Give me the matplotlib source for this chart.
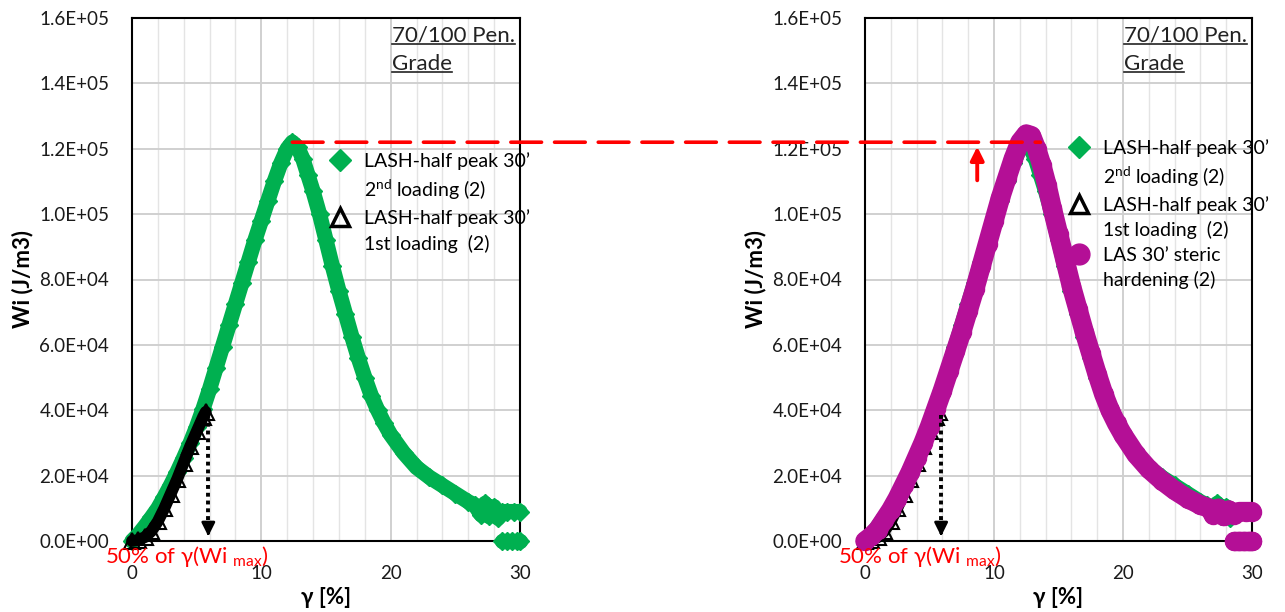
import matplotlib
matplotlib.use("Agg")
import matplotlib.pyplot as plt
from matplotlib.lines import Line2D
from matplotlib.patches import ConnectionPatch
from matplotlib.ticker import FuncFormatter, MultipleLocator

plt.rcParams['font.family'] = ['Lato', 'DejaVu Sans']
plt.rcParams['mathtext.fontset'] = 'custom'
plt.rcParams['mathtext.rm'] = 'Lato'
plt.rcParams['mathtext.it'] = 'Lato:italic'
plt.rcParams['mathtext.bf'] = 'Lato:bold'

GREEN = '#00B050'
PURPLE = '#B40F96'
RED = '#FF0000'

# LASH-half peak 30' 2nd loading (2)
g2_gamma = [0, 0.5, 1.0, 1.5, 2.0, 2.5, 3.0, 3.5, 4.0, 4.5, 5.0, 5.5, 6.0, 6.5,
            7.0, 7.5, 8.0, 8.5, 9.0, 9.5, 10.0, 10.5, 11.0, 11.5, 12.0, 12.4,
            12.8, 13.2, 13.6, 14.0, 14.5, 15.0, 15.5, 16.0, 16.5, 17.0, 17.5,
            18.0, 18.5, 19.0, 19.5, 20.0, 21.0, 22.0, 23.0, 24.0, 25.0, 26.0,
            26.5, 27.0, 27.3, 27.6, 28.0, 28.3, 28.6, 29.0, 29.5, 30.0]
g2_wi = [0, 2.0e3, 4.5e3, 7.2e3, 1.0e4, 1.35e4, 1.72e4, 2.12e4, 2.55e4, 3.0e4,
         3.5e4, 4.05e4, 4.65e4, 5.3e4, 5.95e4, 6.6e4, 7.25e4, 7.9e4, 8.55e4,
         9.2e4, 9.8e4, 1.04e5, 1.10e5, 1.155e5, 1.20e5, 1.22e5, 1.205e5,
         1.17e5, 1.12e5, 1.07e5, 1.0e5, 9.2e4, 8.4e4, 7.65e4, 6.95e4, 6.25e4,
         5.6e4, 5.0e4, 4.45e4, 4.0e4, 3.6e4, 3.25e4, 2.7e4, 2.25e4, 1.95e4,
         1.7e4, 1.45e4, 1.2e4, 1.1e4, 8.0e3, 1.15e4, 7.5e3, 1.05e4, 7.0e3,
         9.0e3, 9.0e3, 9.0e3, 9.0e3]
g2_gamma_zero = [28.6, 29.0, 29.4, 29.8, 30.0]
g2_wi_zero = [0, 0, 0, 0, 0]

# LASH-half peak 30' 1st loading (2)
g1_gamma = [0, 0.5, 1.0, 1.5, 2.0, 2.5, 3.0, 3.5, 4.0, 4.5, 5.0, 5.5, 5.7]
g1_wi = [0, 3e2, 1.2e3, 3.0e3, 6.0e3, 1.0e4, 1.45e4, 1.9e4, 2.4e4, 2.9e4,
         3.35e4, 3.8e4, 3.95e4]

# LAS 30' steric hardening (2)
las_gamma = [0, 0.5, 1.0, 1.5, 2.0, 2.5, 3.0, 3.5, 4.0, 4.5, 5.0, 5.5, 6.0,
             6.5, 7.0, 7.5, 8.0, 8.5, 9.0, 9.5, 10.0, 10.5, 11.0, 11.5, 12.0,
             12.5, 12.9, 13.3, 13.7, 14.1, 14.5, 15.0, 15.5, 16.0, 16.5, 17.0,
             17.5, 18.0, 18.5, 19.0, 19.5, 20.0, 21.0, 22.0, 23.0, 24.0, 25.0,
             26.0, 26.7, 27.0, 27.4, 27.8, 28.2, 28.6, 29.0, 29.5, 30.0]
las_wi = [0, 1.5e3, 3.5e3, 6.5e3, 9.5e3, 1.3e4, 1.7e4, 2.1e4, 2.55e4, 3.0e4,
          3.5e4, 4.05e4, 4.6e4, 5.2e4, 5.8e4, 6.4e4, 7.05e4, 7.7e4, 8.4e4,
          9.1e4, 9.8e4, 1.05e5, 1.11e5, 1.17e5, 1.22e5, 1.245e5, 1.24e5,
          1.20e5, 1.15e5, 1.09e5, 1.02e5, 9.4e4, 8.6e4, 7.8e4, 7.1e4, 6.4e4,
          5.75e4, 5.1e4, 4.5e4, 4.0e4, 3.6e4, 3.25e4, 2.65e4, 2.2e4, 1.85e4,
          1.55e4, 1.3e4, 1.1e4, 1.0e4, 8.0e3, 1.0e4, 7.5e3, 9.5e3, 8.0e3,
          9.0e3, 9.0e3, 9.0e3]
las_gamma_zero = [28.6, 29.0, 29.4, 29.8, 30.0]
las_wi_zero = [0, 0, 0, 0, 0]

wi_max = 1.22e5
gamma_max = 12.4
gamma_half = 5.9
y_ticks = [0, 2e4, 4e4, 6e4, 8e4, 1e5, 1.2e5, 1.4e5, 1.6e5]
x_ticks = [0, 10, 20, 30]

fig = plt.figure(figsize=(12.85, 6.12), dpi=100)
ax1 = fig.add_axes([132 / 1285, 71 / 612, 388 / 1285, 523 / 612])
ax2 = fig.add_axes([865 / 1285, 71 / 612, 387 / 1285, 523 / 612])


def style(ax):
    ax.set_xlim(0, 30)
    ax.set_ylim(0, 1.6e5)
    ax.set_xticks(x_ticks)
    ax.set_yticks(y_ticks)
    ax.xaxis.set_minor_locator(MultipleLocator(2))
    ax.yaxis.set_major_formatter(FuncFormatter(lambda v, p: f"{v:.1E}"))
    ax.grid(which='major', color='#D0D0D0', lw=1.4)
    ax.grid(which='minor', axis='x', color='#E4E4E4', lw=1.0)
    ax.set_axisbelow(True)
    ax.tick_params(which='both', length=0, labelsize=13.5, labelcolor='#1a1a1a')
    ax.tick_params(axis='y', pad=16.5)
    ax.tick_params(axis='x', pad=17)
    for s in ax.spines.values():
        s.set_color('black')
        s.set_linewidth(1.5)
    ax.set_xlabel('γ [%]', fontsize=16, fontweight='bold')
    ax.set_ylabel('Wi (J/m3)', fontsize=16, fontweight='bold')
    ax.xaxis.set_label_coords(0.5, -0.087)
    ax.yaxis.set_label_coords(-0.255, 0.5)


def draw_green(ax):
    ax.plot(g2_gamma, g2_wi, color=GREEN, lw=11, marker='D', ms=9.5,
            solid_capstyle='round', solid_joinstyle='round', clip_on=False, zorder=3)
    ax.plot(g2_gamma_zero, g2_wi_zero, color=GREEN, lw=11, marker='D', ms=9.5,
            solid_capstyle='round', clip_on=False, zorder=3)


def draw_black(ax):
    ax.plot(g1_gamma, g1_wi, color='black', lw=8.5, marker='^', ms=11,
            mfc='none', mec='black', mew=1.5, solid_capstyle='round',
            clip_on=False, zorder=4)


def draw_purple(ax):
    ax.plot(las_gamma, las_wi, color=PURPLE, lw=14, marker='o', ms=13,
            solid_capstyle='round', solid_joinstyle='round', clip_on=False, zorder=5)
    ax.plot(las_gamma_zero, las_wi_zero, color=PURPLE, lw=14, marker='o', ms=13,
            solid_capstyle='round', clip_on=False, zorder=5)


for ax in (ax1, ax2):
    style(ax)
    draw_green(ax)
    draw_black(ax)
draw_purple(ax2)

# dotted arrows to 50% of gamma(Wi max)
for ax in (ax1, ax2):
    ax.plot([gamma_half, gamma_half], [3.85e4, 3e3], color='black', lw=2.8,
            ls=(0, (1, 1)), zorder=6)
    ax.annotate('', xy=(gamma_half, 6e2), xytext=(gamma_half, 4e3),
                arrowprops=dict(arrowstyle='-|>,head_width=0.4,head_length=0.8',
                                color='black', lw=2), zorder=6)
    ax.text(-0.07, -0.029, '50% of γ(Wi $_{\\mathrm{max}}$)', transform=ax.transAxes,
            color=RED, fontsize=16, ha='left', va='center', zorder=10)

# red arrow on right panel
ax2.annotate('', xy=(8.7, 1.215e5), xytext=(8.7, 1.095e5),
             arrowprops=dict(arrowstyle='-|>,head_width=0.4,head_length=0.8',
                             color=RED, lw=2.8), zorder=7)

# dashed red line joining peaks
con = ConnectionPatch(xyA=(gamma_max, wi_max), coordsA=ax1.transData,
                      xyB=(13.6, wi_max), coordsB=ax2.transData,
                      color=RED, lw=2.6, ls=(0, (8.5, 3.6)), zorder=20)
fig.add_artist(con)

# grade label with underline
grade_texts = []
for ax in (ax1, ax2):
    t1 = ax.text(0.67, 0.966, '70/100 Pen.', transform=ax.transAxes, fontsize=16,
                 ha='left', va='center', color='#222222')
    t2 = ax.text(0.67, 0.913, 'Grade', transform=ax.transAxes, fontsize=16,
                 ha='left', va='center', color='#222222')
    grade_texts += [t1, t2]

# legends
h_d = Line2D([], [], ls='none', marker='D', color=GREEN, ms=11)
h_t = Line2D([], [], ls='none', marker='^', mfc='none', mec='black', mew=2.5, ms=13)
h_o = Line2D([], [], ls='none', marker='o', color=PURPLE, ms=15)
h_n = Line2D([], [], ls='none', marker='')
lab_a = 'LASH-half peak 30’'
lab_b = '2$^{\\mathrm{nd}}$ loading (2)'
lab_c = '1st loading  (2)'
leg_kw = dict(frameon=False, fontsize=14, handlelength=1.0, handletextpad=0.75,
              borderpad=0, borderaxespad=0, labelspacing=0.38, loc='upper left')
ax1.legend([h_d, h_n, h_t, h_n], [lab_a, lab_b, lab_a, lab_c],
           bbox_to_anchor=(0.51, 0.743), **leg_kw)
ax2.legend([h_d, h_n, h_t, h_n, h_o, h_n],
           [lab_a, lab_b, lab_a, lab_c, 'LAS 30’ steric', 'hardening (2)'],
           bbox_to_anchor=(0.527, 0.768), **leg_kw)

fig.canvas.draw()
inv = fig.transFigure.inverted()
for t in grade_texts:
    bb = t.get_window_extent()
    (x0, y0), (x1, y1) = inv.transform([(bb.x0, bb.y0), (bb.x1, bb.y0)])
    fig.add_artist(Line2D([x0, x1], [y0 + 0.003, y0 + 0.003], color='#222222', lw=1.2,
                          transform=fig.transFigure))

fig.savefig('out.png', dpi=100)
